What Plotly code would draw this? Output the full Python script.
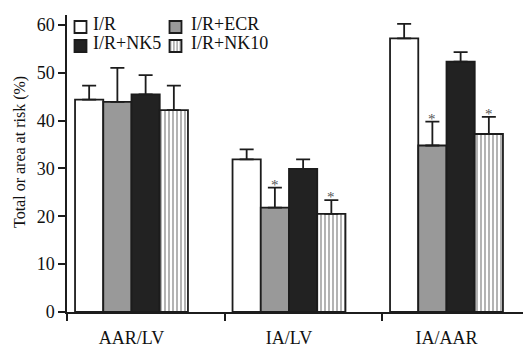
import plotly.graph_objects as go

# ---- data ----
categories = ["AAR/LV", "IA/LV", "IA/AAR"]
series_names = ["I/R", "I/R+ECR", "I/R+NK5", "I/R+NK10"]
means = {
    "I/R":      [44.4, 31.9, 57.2],
    "I/R+ECR":  [43.9, 21.8, 34.8],
    "I/R+NK5":  [45.5, 29.9, 52.3],
    "I/R+NK10": [42.2, 20.5, 37.2],
}
errors = {
    "I/R":      [2.9, 2.1, 3.0],
    "I/R+ECR":  [7.1, 4.2, 5.0],
    "I/R+NK5":  [4.0, 2.0, 2.0],
    "I/R+NK10": [5.1, 2.9, 3.6],
}
significant = {
    "I/R":      [False, False, False],
    "I/R+ECR":  [False, True, True],
    "I/R+NK5":  [False, False, False],
    "I/R+NK10": [False, True, True],
}
y_ticks = [0, 10, 20, 30, 40, 50, 60]
y_title = "Total or area at risk (%)"

# ---- style ----
FONT = "Liberation Serif"
INK = "#1c1c1c"
TXT = "#111111"
styles = {
    "I/R":      dict(color="#ffffff", pattern=None),
    "I/R+ECR":  dict(color="#999999", pattern=None),
    "I/R+NK5":  dict(color="#222222", pattern=None),
    "I/R+NK10": dict(color="#ffffff", pattern=dict(shape="|", size=4, solidity=0.32,
                                                     fgcolor="#111111", bgcolor="#ffffff",
                                                     fillmode="overlay")),
}
legend_of = {"I/R": "legend", "I/R+NK5": "legend", "I/R+ECR": "legend2", "I/R+NK10": "legend2"}
BARGAP = 0.283
n = len(series_names)
bw = (1 - BARGAP) / n
xpos = list(range(len(categories)))

# page offset (browser body margin) compensation
OFF = 8
W, H = 531 - OFF, 344 - OFF
ML, MR, MT, MB = 67 - OFF, 0, 15 - OFF, 32
pw = W - ML - MR
ph = H - MT - MB


def px_x(sx):
    return (sx - OFF - ML) / pw


def px_y(sy):
    return (H - MB - (sy - OFF)) / ph


fig = go.Figure()
for k, name in enumerate(series_names):
    st = styles[name]
    marker = dict(color=st["color"], line=dict(color=INK, width=1.8))
    if st["pattern"]:
        marker["pattern"] = st["pattern"]
    fig.add_trace(go.Bar(
        x=xpos, y=means[name], name="",
        customdata=[name] * len(xpos),
        hovertemplate="%{customdata}: %{y}<extra></extra>",
        marker=marker,
        error_y=dict(type="data", symmetric=False, array=errors[name],
                     arrayminus=[0] * len(xpos), color=INK, thickness=1.8, width=7),
        legend=legend_of[name],
    ))
    off = -(1 - BARGAP) / 2 + (k + 0.5) * bw
    for i, sig in enumerate(significant[name]):
        if sig:
            fig.add_annotation(x=xpos[i] + off, y=means[name][i] + errors[name][i],
                               xref="x", yref="y", text="*", showarrow=False,
                               yanchor="bottom", yshift=-7,
                               font=dict(family=FONT, size=15, color="#555555"))

unit_px = 157.5
x0 = -64.5 / unit_px
x1 = x0 + pw / unit_px

# legend labels next to swatches
label_pos = {"I/R": (91, 23.5), "I/R+NK5": (91, 43.5), "I/R+ECR": (189, 23.5), "I/R+NK10": (189, 43.5)}
for name in series_names:
    sx, sy = label_pos[name]
    fig.add_annotation(x=px_x(sx), y=px_y(sy), xref="paper", yref="paper",
                       text=name, showarrow=False, xanchor="left", yanchor="middle",
                       font=dict(family=FONT, size=18, color=TXT))

# y-axis title
fig.add_annotation(x=px_x(20), y=px_y(152), xref="paper", yref="paper", text=y_title,
                   textangle=-90, showarrow=False, xanchor="center", yanchor="middle",
                   font=dict(family=FONT, size=16, color=TXT))

legend_common = dict(orientation="v", xanchor="left", yanchor="top", bgcolor="rgba(0,0,0,0)",
                     borderwidth=0, itemwidth=30, font=dict(family=FONT, size=12),
                     tracegroupgap=0, itemclick=False, itemdoubleclick=False)

fig.update_layout(
    width=W, height=H,
    margin=dict(l=ML, r=MR, t=MT, b=MB, autoexpand=False),
    paper_bgcolor="white", plot_bgcolor="white",
    barmode="group", bargap=BARGAP, bargroupgap=0,
    font=dict(family=FONT, size=18, color=TXT),
    showlegend=True,
    legend=dict(x=px_x(60.5), y=px_y(12.5), **legend_common),
    legend2=dict(x=px_x(155.5), y=px_y(12.5), **legend_common),
    xaxis=dict(range=[x0, x1], tickvals=[x0, x0 + 1, x0 + 2], showticklabels=False,
               ticks="outside", ticklen=7, tickwidth=1.5, tickcolor=INK,
               showline=True, linecolor=INK, linewidth=1.5, showgrid=False, zeroline=False),
    xaxis2=dict(range=[x0, x1], overlaying="x", anchor="y", side="bottom",
                tickvals=xpos, ticktext=categories, ticks="", showline=False,
                showgrid=False, zeroline=False, ticklabelstandoff=13,
                tickfont=dict(family=FONT, size=18, color=TXT)),
    yaxis=dict(range=[0, 62.07], tickvals=y_ticks, ticks="outside", ticklen=7,
               tickwidth=1.5, tickcolor=INK, showline=True, linecolor=INK, linewidth=1.5,
               showgrid=False, zeroline=False,
               tickfont=dict(family=FONT, size=18, color=TXT)),
)
fig.add_trace(go.Scatter(x=xpos, y=[None] * len(xpos), xaxis="x2", yaxis="y",
                         showlegend=False, hoverinfo="skip", mode="markers"))

fig.write_html("out.html")
